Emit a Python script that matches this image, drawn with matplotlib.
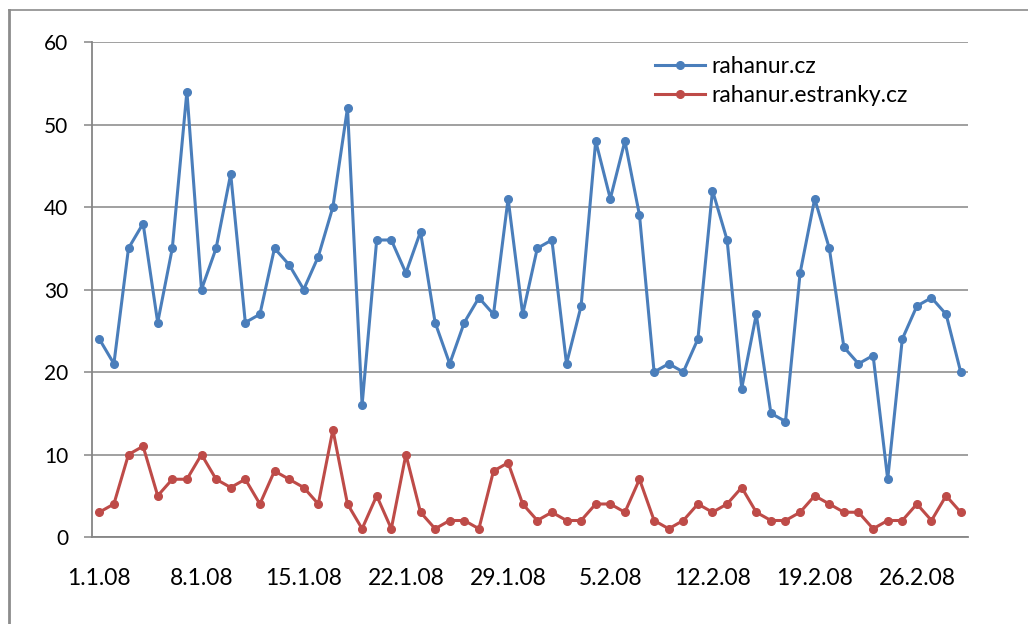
import matplotlib
matplotlib.use("Agg")
import matplotlib.pyplot as plt
from matplotlib.lines import Line2D

# ---- data ----
tick_labels = ["1.1.08", "8.1.08", "15.1.08", "22.1.08", "29.1.08",
               "5.2.08", "12.2.08", "19.2.08", "26.2.08"]
series_names = ["rahanur.cz", "rahanur.estranky.cz"]
rahanur_cz = [24, 21, 35, 38, 26, 35, 54, 30, 35, 44,
              26, 27, 35, 33, 30, 34, 40, 52, 16, 36,
              36, 32, 37, 26, 21, 26, 29, 27, 41, 27,
              35, 36, 21, 28, 48, 41, 48, 39, 20, 21,
              20, 24, 42, 36, 18, 27, 15, 14, 32, 41,
              35, 23, 21, 22, 7, 24, 28, 29, 27, 20]
rahanur_estranky = [3, 4, 10, 11, 5, 7, 7, 10, 7, 6,
                    7, 4, 8, 7, 6, 4, 13, 4, 1, 5,
                    1, 10, 3, 1, 2, 2, 1, 8, 9, 4,
                    2, 3, 2, 2, 4, 4, 3, 7, 2, 1,
                    2, 4, 3, 4, 6, 3, 2, 2, 3, 5,
                    4, 3, 3, 1, 2, 2, 4, 2, 5, 3]
yticks = [0, 10, 20, 30, 40, 50, 60]

plt.rcParams['font.family'] = ['Lato', 'DejaVu Sans']

W, H = 1028, 624
fig = plt.figure(figsize=(W / 100, H / 100), dpi=100)
ax = fig.add_axes([92 / W, 1 - 537 / H, 876 / W, 495 / H])

days = list(range(len(rahanur_cz)))
blue = "#4A7EBB"
red = "#BE4B48"
ax.plot(days, rahanur_cz, color=blue, lw=2.2, marker='o', ms=5.5,
        label=series_names[0], zorder=3)
ax.plot(days, rahanur_estranky, color=red, lw=2.2, marker='o', ms=5.5,
        label=series_names[1], zorder=3)

ax.set_xlim(-0.5, len(days) - 0.5)
ax.set_ylim(0, 60)
ax.set_yticks(yticks)
ax.set_xticks(list(range(0, len(days), 7)))
ax.set_xticklabels(tick_labels)

grid_c = "#868686"
ax.yaxis.grid(True, color=grid_c, lw=1.1)
ax.set_axisbelow(True)
for s in ['top', 'right']:
    ax.spines[s].set_visible(False)
for s in ['left', 'bottom']:
    ax.spines[s].set_color(grid_c)
    ax.spines[s].set_linewidth(1.3)

ax.tick_params(axis='y', length=6, color=grid_c, width=1.1, pad=11,
               labelsize=15, labelcolor='black')
ax.tick_params(axis='x', length=0, pad=22, labelsize=16.5, labelcolor='black')

leg = ax.legend(loc='upper left', bbox_to_anchor=(655 / W, 1 - 56 / H),
                bbox_transform=fig.transFigure, frameon=False,
                fontsize=16.5, handlelength=2.2, handletextpad=0.25,
                labelspacing=0.33, borderaxespad=0, borderpad=0)

# outer chart frame
fig.add_artist(Line2D([9 / W, 9 / W], [0, 1 - 10 / H], transform=fig.transFigure,
                      color="#8C8C8C", lw=2))
fig.add_artist(Line2D([9 / W, 1], [1 - 10 / H, 1 - 10 / H], transform=fig.transFigure,
                      color="#8C8C8C", lw=1.2))

fig.savefig("out.png", dpi=100)
